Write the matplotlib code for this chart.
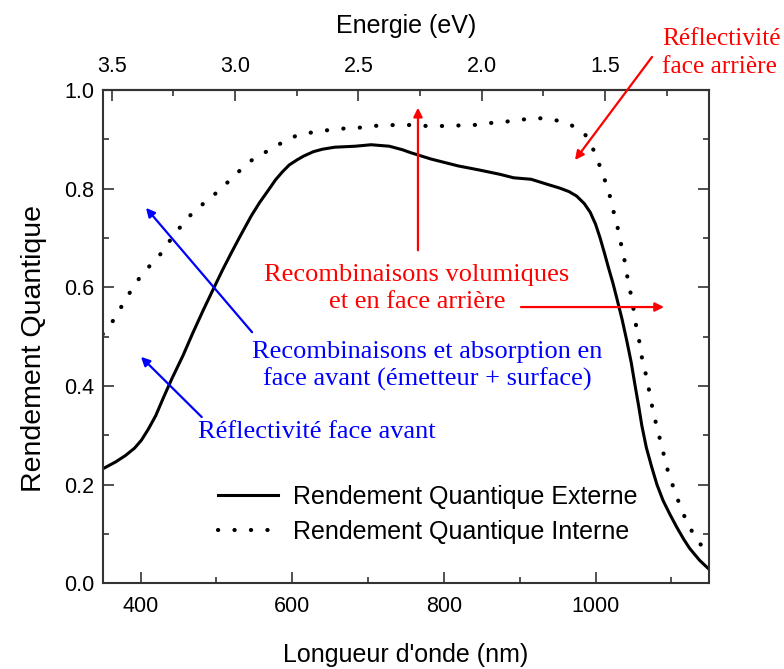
import numpy as np
import matplotlib
matplotlib.use("Agg")
import matplotlib.pyplot as plt
from matplotlib.ticker import MultipleLocator, FixedLocator, FormatStrFormatter

# quantum efficiency curves (wavelength in nm, efficiency 0..1)
wl_ext = [350, 367, 380, 392, 401, 410, 420, 430, 441, 456, 469, 483, 497, 508,
          519, 530, 546, 557, 569, 578, 587, 596, 606, 615, 628, 640, 656, 683,
          704, 728, 745, 756, 783, 819, 846, 874, 892, 915, 938, 953, 965, 975,
          985, 993, 1000, 1006, 1012, 1017, 1023, 1028, 1035, 1041, 1047, 1052,
          1057, 1061, 1067, 1074, 1081, 1089, 1098, 1107, 1116, 1124, 1137, 1150]
rq_ext = [0.232, 0.246, 0.259, 0.274, 0.290, 0.312, 0.340, 0.376, 0.414, 0.462,
          0.508, 0.555, 0.600, 0.635, 0.668, 0.700, 0.745, 0.772, 0.798, 0.818,
          0.834, 0.848, 0.858, 0.866, 0.875, 0.880, 0.884, 0.886, 0.889, 0.886,
          0.879, 0.873, 0.860, 0.846, 0.838, 0.829, 0.822, 0.819, 0.808, 0.801,
          0.794, 0.785, 0.770, 0.752, 0.728, 0.700, 0.668, 0.640, 0.608, 0.578,
          0.535, 0.493, 0.448, 0.402, 0.358, 0.320, 0.275, 0.236, 0.200, 0.168,
          0.140, 0.114, 0.090, 0.071, 0.047, 0.028]

wl_int = [350, 365, 380, 395, 410, 426, 442, 462, 483, 505, 526, 546, 568, 584,
          606, 626, 649, 669, 692, 714, 735, 756, 778, 801, 819, 840, 861, 883,
          903, 925, 947, 967, 988, 1000, 1009, 1017, 1023, 1029, 1034, 1039,
          1043, 1048, 1053, 1058, 1062, 1068, 1072, 1077, 1083, 1089, 1095,
          1103, 1111, 1122, 1137, 1142]
rq_int = [0.505, 0.535, 0.575, 0.612, 0.640, 0.667, 0.702, 0.741, 0.770, 0.798,
          0.830, 0.857, 0.877, 0.891, 0.908, 0.914, 0.919, 0.922, 0.924, 0.928,
          0.929, 0.929, 0.927, 0.927, 0.928, 0.929, 0.933, 0.936, 0.940, 0.943,
          0.939, 0.930, 0.907, 0.870, 0.831, 0.797, 0.758, 0.722, 0.685, 0.649,
          0.611, 0.576, 0.526, 0.488, 0.449, 0.414, 0.378, 0.341, 0.304, 0.267,
          0.230, 0.193, 0.159, 0.118, 0.082, 0.072]

energy_ticks = [3.5, 3.0, 2.5, 2.0, 1.5]
energy_minor = [3.25, 2.75, 2.25, 1.75, 1.25]

# top energy scale is drawn linear against wavelength
E0, WL0, WL_PER_EV = 3.5, 361.9, 325.25


def wl_to_ev(w):
    return E0 - (np.asarray(w) - WL0) / WL_PER_EV


def ev_to_wl(e):
    return WL0 + (E0 - np.asarray(e)) * WL_PER_EV


plt.rcParams['font.family'] = ['Liberation Sans', 'DejaVu Sans']
SERIF = ['Liberation Serif', 'DejaVu Serif']
RED = '#ff0000'
BLUE = '#0000ff'

fig = plt.figure(figsize=(7.84, 6.69), dpi=100)
ax = fig.add_axes([0.131, 0.1281, 0.7737, 0.7374])

ax.plot(wl_ext, rq_ext, color='black', lw=2.2, label='Rendement Quantique Externe')
ax.plot(wl_int, rq_int, color='black', lw=3.0, ls=(0, (0.05, 3.9)),
        dash_capstyle='round', label='Rendement Quantique Interne')

ax.set_xlim(350, 1150)
ax.set_ylim(0, 1.0)
ax.xaxis.set_major_locator(MultipleLocator(200))
ax.xaxis.set_minor_locator(MultipleLocator(100))
ax.yaxis.set_major_locator(MultipleLocator(0.2))
ax.yaxis.set_minor_locator(MultipleLocator(0.1))
ax.yaxis.set_major_formatter(FormatStrFormatter('%.1f'))
ax.tick_params(which='both', direction='in', right=True, width=1.2,
               color='#333333', labelsize=15.5, pad=9)
ax.tick_params(axis='y', pad=6)
ax.tick_params(which='major', length=8)
ax.tick_params(which='minor', length=4.5)
for s in ax.spines.values():
    s.set_linewidth(1.5)
    s.set_color('#333333')

ax.set_xlabel("Longueur d'onde (nm)", fontsize=18, labelpad=19)
ax.set_ylabel('Rendement Quantique', fontsize=20.5, labelpad=12, y=0.476)

top = ax.secondary_xaxis('top', functions=(wl_to_ev, ev_to_wl))
top.xaxis.set_major_locator(FixedLocator(energy_ticks))
top.xaxis.set_minor_locator(FixedLocator(energy_minor))
top.xaxis.set_major_formatter(FormatStrFormatter('%.1f'))
top.tick_params(which='both', direction='in', width=1.2, color='#333333',
                labelsize=15.5, pad=9)
top.tick_params(which='major', length=8)
top.tick_params(which='minor', length=4.5)
top.spines['top'].set_linewidth(1.5)
top.set_xlabel('Energie (eV)', fontsize=18, labelpad=17)

leg = ax.legend(loc='upper left', bbox_to_anchor=(0.19, 0.199), frameon=False,
                fontsize=18, handlelength=2.4, handletextpad=0.6,
                labelspacing=0.42, borderpad=0, borderaxespad=0)


def arrow(tail, head, color):
    ax.annotate('', xy=head, xytext=tail, annotation_clip=False,
                arrowprops=dict(arrowstyle='-|>', color=color, lw=1.6,
                                mutation_scale=13, shrinkA=0, shrinkB=0))


# loss mechanisms
arrow((765.8, 0.675), (765.8, 0.964), RED)
arrow((901.6, 0.560), (1090.3, 0.560), RED)
arrow((1074.5, 1.067), (972.9, 0.858), RED)
arrow((547, 0.509), (407.1, 0.761), BLUE)
arrow((480.6, 0.337), (400.5, 0.459), BLUE)

ax.text(764.5, 0.597, 'Recombinaisons volumiques\net en face arrière',
        color=RED, family=SERIF, fontsize=19, ha='center', va='center',
        linespacing=1.28)
ax.text(1087.8, 1.075, 'Réflectivité\nface arrière', color=RED, family=SERIF,
        fontsize=18.3, ha='left', va='center', linespacing=1.3, clip_on=False)
ax.text(777.8, 0.440, 'Recombinaisons et absorption en\nface avant (émetteur + surface)',
        color=BLUE, family=SERIF, fontsize=19, ha='center', va='center',
        linespacing=1.28)
ax.text(631.8, 0.307, 'Réflectivité face avant', color=BLUE, family=SERIF,
        fontsize=19, ha='center', va='center')

fig.savefig('out.png', dpi=100)
